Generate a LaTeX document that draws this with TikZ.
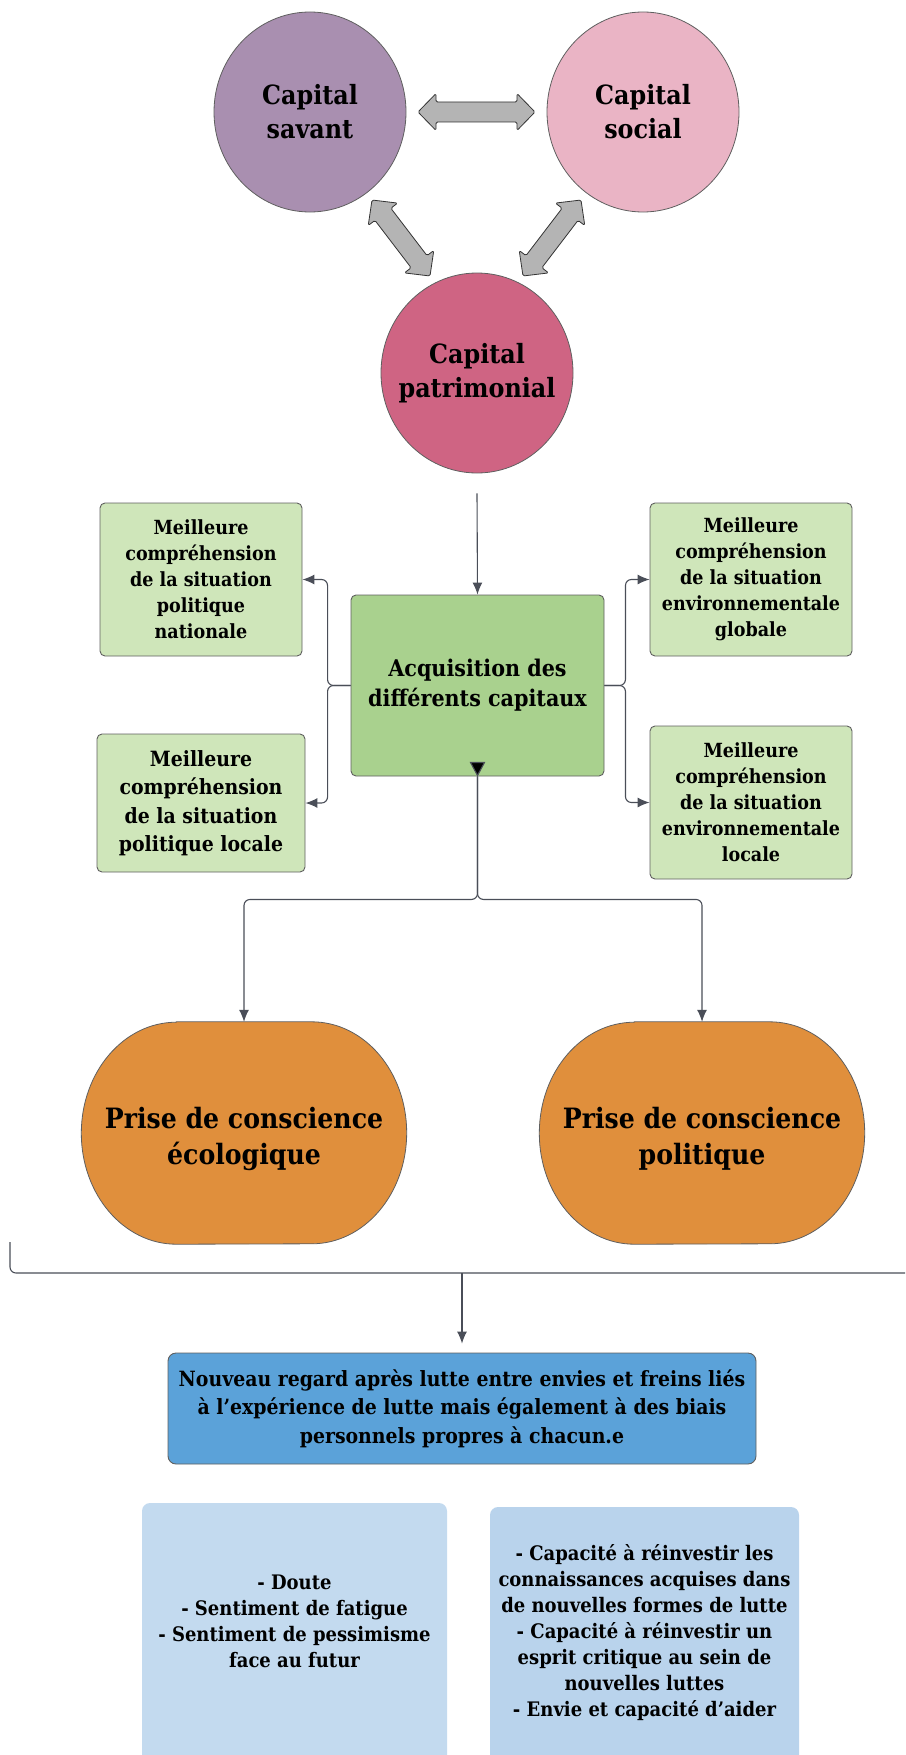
\documentclass[tikz,border=0pt]{standalone}
\usepackage{fontspec}
\setmainfont{DejaVu Serif Condensed}
\usetikzlibrary{shapes.geometric,arrows.meta,calc,backgrounds}

\definecolor{savant}{HTML}{A98FB0}
\definecolor{social}{HTML}{EAB4C5}
\definecolor{patri}{HTML}{CF6483}
\definecolor{twoway}{HTML}{B4B4B4}
\definecolor{edge}{HTML}{5F5F5F}
\definecolor{wire}{HTML}{4A4E58}
\definecolor{greendark}{HTML}{A9D18E}
\definecolor{greenlight}{HTML}{CFE6BA}
\definecolor{orangeblob}{HTML}{E08F3C}
\definecolor{bluemid}{HTML}{5BA2D9}
\definecolor{bluepaleA}{HTML}{C3DAEF}
\definecolor{bluepaleB}{HTML}{B9D3EC}

\newcommand\fcap{\bfseries\fontsize{26.5}{34}\selectfont}
\newcommand\fsmall{\bfseries\fontsize{19.5}{26}\selectfont}
\newcommand\fmid{\bfseries\fontsize{21}{28.5}\selectfont}
\newcommand\facq{\bfseries\fontsize{23}{30}\selectfont}
\newcommand\fprise{\bfseries\fontsize{28}{36}\selectfont}
\newcommand\fpale{\bfseries\fontsize{20}{26}\selectfont}

% thick grey double-headed arrow between two tip points
\newcommand\twowayarrow[2]{%
  \filldraw[fill=twoway, draw=black!80, line width=0.8pt, rounded corners=1.5pt, line join=round]
    (#1)
    -- ($(#1)!18pt!(#2)!18.5pt!90:(#2)$)
    -- ($(#1)!18pt!(#2)!10pt!90:(#2)$)
    -- ($(#2)!18pt!(#1)!10pt!-90:(#1)$)
    -- ($(#2)!18pt!(#1)!18.5pt!-90:(#1)$)
    -- (#2)
    -- ($(#2)!18pt!(#1)!18.5pt!90:(#1)$)
    -- ($(#2)!18pt!(#1)!10pt!90:(#1)$)
    -- ($(#1)!18pt!(#2)!10pt!-90:(#2)$)
    -- ($(#1)!18pt!(#2)!18.5pt!-90:(#2)$)
    -- cycle;}

% orange rounded blob drawn around a named node
\newcommand\blob[1]{%
  \begin{scope}[on background layer]
  \filldraw[fill=orangeblob, draw=edge, line width=0.8pt]
    ([xshift=95pt]#1.north west) -- ([xshift=-95pt]#1.north east)
    arc[start angle=90, end angle=0, x radius=95pt, y radius=111pt]
    arc[start angle=0, end angle=-90, x radius=95pt, y radius=111pt]
    -- ([xshift=95pt]#1.south west)
    arc[start angle=270, end angle=180, x radius=95pt, y radius=111pt]
    arc[start angle=180, end angle=90, x radius=95pt, y radius=111pt]
    -- cycle;
  \end{scope}}

\tikzset{
  capital/.style={ellipse, draw=edge, line width=0.8pt, minimum width=192pt,
    minimum height=200pt, inner sep=0pt},
  caplabel/.style={align=center, font=\fcap, inner sep=0pt},
  gbox/.style={rectangle, rounded corners=5pt, draw=edge, line width=0.9pt,
    fill=greenlight, minimum width=202pt, minimum height=153pt, align=center,
    font=\fsmall, inner sep=2pt},
  prise/.style={rectangle, minimum width=325pt, minimum height=222pt, inner sep=0pt},
  priselabel/.style={align=center, font=\fprise, inner sep=0pt, yshift=-6pt},
  wire/.style={draw=wire, line width=1.1pt},
  tip/.style={-{Latex[length=12pt,width=10pt]}},
}

\begin{document}
\begin{tikzpicture}[x=1pt, y=-1pt]
\useasboundingbox (0,0) rectangle (905,1755);
\clip (0,0) rectangle (905,1755);

% the three capitals
\node[capital, fill=savant, label={[caplabel]center:Capital\\savant}] (sav) at (310,112) {};
\node[capital, fill=social, label={[caplabel]center:Capital\\social}] (soc) at (643,112) {};
\node[capital, fill=patri, label={[caplabel]center:Capital\\patrimonial}] (pat) at (477,373) {};

\coordinate (hl) at (418,112);
\coordinate (hr) at (535,112);
\coordinate (dla) at (372,200);
\coordinate (dlb) at (430,276);
\coordinate (dra) at (581,200);
\coordinate (drb) at (523,276);
\twowayarrow{hl}{hr}
\twowayarrow{dla}{dlb}
\twowayarrow{dra}{drb}

% acquisition and its four outcomes
\node[gbox, fill=greendark, minimum width=253pt, minimum height=181pt, font=\facq]
  (acq) at (477.5,685.5) {Acquisition des\\différents capitaux};
\node[gbox] (nat) at (201,579.5) {Meilleure\\compréhension\\de la situation\\politique\\nationale};
\node[gbox, minimum width=208pt, minimum height=138pt, font=\fmid]
  (loc) at (201,803) {Meilleure\\compréhension\\de la situation\\politique locale};
\node[gbox] (glob) at (751,579.5) {Meilleure\\compréhension\\de la situation\\environnementale\\globale};
\node[gbox] (envloc) at (751,802.5) {Meilleure\\compréhension\\de la situation\\environnementale\\locale};

\draw[wire, tip] ([yshift=-20pt]pat.south) -- (acq.north);
\draw[wire, tip, rounded corners=6pt] (acq.west) -- ++(-23,0) |- (nat.east);
\draw[wire, tip, rounded corners=6pt] (acq.west) -- ++(-23,0) |- (loc.east);
\draw[wire, tip, rounded corners=6pt] (acq.east) -- ++(21,0) |- (glob.west);
\draw[wire, tip, rounded corners=6pt] (acq.east) -- ++(21,0) |- (envloc.west);

% the two kinds of awareness
\node[prise, label={[priselabel]center:Prise de conscience\\écologique}] (eco) at (244,1133) {};
\node[prise, label={[priselabel]center:Prise de conscience\\politique}] (pol) at (702,1133) {};
\blob{eco}
\blob{pol}

\draw[wire, tip, rounded corners=6pt] (acq.south) -- ++(0,123) -| (eco.north);
\draw[wire, tip, rounded corners=6pt] (acq.south) -- ++(0,123) -| (pol.north);
\fill[wire] ($(acq.south)+(-7,-14)$) -- ($(acq.south)+(7,-14)$) -- ($(acq.south)+(0,-1)$) -- cycle;

% gathering bracket and the new outlook
\coordinate (brk) at (10,1242);
\coordinate (brkend) at (915,1273);
\coordinate (brkmid) at (462,1273);
\draw[wire, rounded corners=6pt] (brk) |- (brkend);

\node[rectangle, rounded corners=8pt, draw=edge, line width=0.9pt, fill=bluemid,
  minimum width=588pt, minimum height=111pt, align=center, font=\fmid]
  (blue) at (462,1408.5) {Nouveau regard après lutte entre envies et freins liés\\à l’expérience de lutte mais également à des biais\\personnels propres à chacun.e};
\draw[wire, tip, shorten >=9pt] (brkmid) -- (blue.north);

% brakes and drivers
\fill[bluepaleA, rounded corners=8pt] (142,1503) rectangle (447,1790);
\fill[bluepaleB, rounded corners=8pt] (490,1507) rectangle (799,1790);
\node[align=center, font=\fpale] (doubt) at (294.5,1621)
  {- Doute\\- Sentiment de fatigue\\- Sentiment de pessimisme\\face au futur};
\node[align=center, font=\fpale] (gain) at (644.5,1633)
  {- Capacité à réinvestir les\\connaissances acquises dans\\de nouvelles formes de lutte\\- Capacité à réinvestir un\\esprit critique au sein de\\nouvelles luttes\\- Envie et capacité d’aider};
\end{tikzpicture}
\end{document}
